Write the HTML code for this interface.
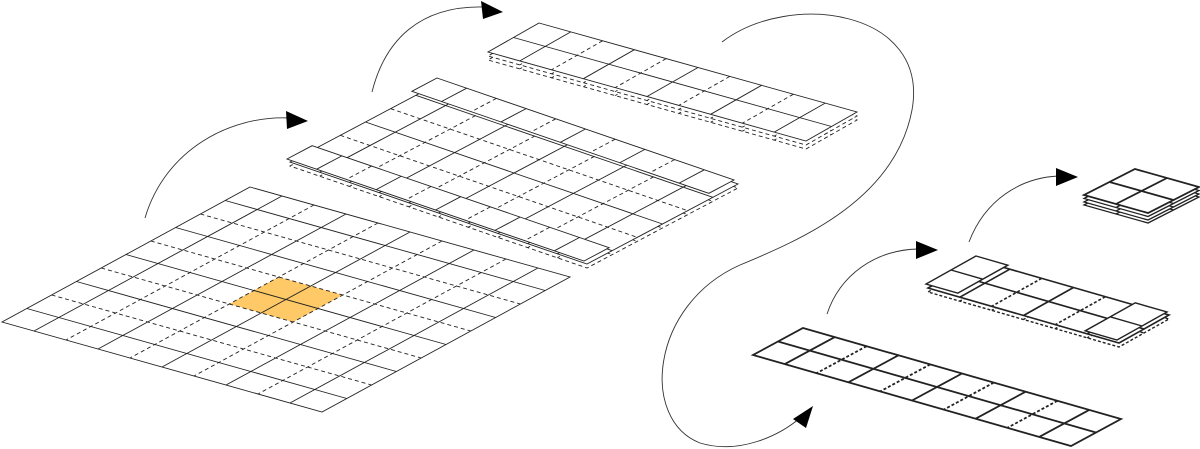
<!DOCTYPE html>
<html><head><meta charset="utf-8"><style>
html,body{margin:0;padding:0;background:#fff;}
svg{display:block;}
</style></head><body>
<svg id="s" width="1200" height="449" viewBox="0 0 1200 449" xmlns="http://www.w3.org/2000/svg">
<g fill="none" stroke="#333" stroke-width="0.9">
<path d="M145,218 C165,150 230,115 290,118"/>
<path d="M372,92 C385,40 420,5 485,7"/>
<path d="M722,42 C790,-10 930,10 912,110 C895,200 800,240 740,265 C650,305 640,420 700,443 C740,455 780,435 800,418"/>
<path d="M827,314 C840,275 875,250 918,249"/>
<path d="M969,242 C985,200 1020,178 1058,176"/>
</g>
<g fill="#000">
<polygon points="308,121 286,111 287,129"/>
<polygon points="503,12 481,1 483,19"/>
<polygon points="813,406 793,419 806,428"/>
<polygon points="938,250 916,241 916,259"/>
<polygon points="1078,177 1056,168 1056,186"/>
</g>
<g id="g"></g>
</svg>
<script>
var NS="http://www.w3.org/2000/svg",G=document.getElementById("g");
function el(n,a){var e=document.createElementNS(NS,n);for(var k in a)e.setAttribute(k,a[k]);G.appendChild(e);return e;}
function P(T,U,V,nu,nv,i,j){return [T[0]+U[0]*i/nu+V[0]*j/nv,T[1]+U[1]*i/nu+V[1]*j/nv];}
function grid(T,U,V,nu,nv,o){
 o=o||{};var sw=o.sw||0.9,dash=o.dash||"4,3",col=o.col||"#222";
 var c=[P(T,U,V,nu,nv,0,0),P(T,U,V,nu,nv,nu,0),P(T,U,V,nu,nv,nu,nv),P(T,U,V,nu,nv,0,nv)];
 el("polygon",{points:c.map(p=>p.join(",")).join(" "),fill:"#fff",stroke:"none"});
 if(o.hl){var h=o.hl;var q=[P(T,U,V,nu,nv,h[0],h[1]),P(T,U,V,nu,nv,h[2],h[1]),P(T,U,V,nu,nv,h[2],h[3]),P(T,U,V,nu,nv,h[0],h[3])];
  el("polygon",{points:q.map(p=>p.join(",")).join(" "),fill:"#fec966",stroke:"none"});}
 var off=o.off||0,offv=o.offv||0;
 for(var i=1;i<nu;i++){var a=P(T,U,V,nu,nv,i,0),b=P(T,U,V,nu,nv,i,nv);
  var d=(o.alld||(!o.alls&&(i+off)%2==0));el("line",{x1:a[0],y1:a[1],x2:b[0],y2:b[1],stroke:col,"stroke-width":sw,"stroke-dasharray":d?dash:"none"});}
 for(var j=1;j<nv;j++){var a=P(T,U,V,nu,nv,0,j),b=P(T,U,V,nu,nv,nu,j);
  var d=(o.alld||(!o.alls&&!o.rows&&(j+offv)%2==0));el("line",{x1:a[0],y1:a[1],x2:b[0],y2:b[1],stroke:col,"stroke-width":sw,"stroke-dasharray":d?dash:"none"});}
 el("polygon",{points:c.map(p=>p.join(",")).join(" "),fill:"none",stroke:col,"stroke-width":sw,"stroke-dasharray":o.alld?dash:"none"});
}
function sh(T,dy,dx){return [T[0]+(dx||0),T[1]+dy];}
function add(a,b){return [a[0]+b[0],a[1]+b[1]];}
function sc(v,k){return [v[0]*k,v[1]*k];}
// main grid
grid([250,187],[320,90],[-248,135],10,10,{hl:[4,4,6,6]});
// top layer stack (10x2)
var T3=[539,23],U3=[318,89],V3=[-51,29];
grid(sh(T3,8),U3,V3,10,2,{alld:1});
grid(sh(T3,4),U3,V3,10,2,{alld:1});
grid(T3,U3,V3,10,2,{rows:1});
// middle layer (10x6)
var T2=[441,82],U2=[297,102],V2=[-151,80];
grid(sh(T2,4),U2,V2,10,6,{alld:1});
grid(T2,U2,V2,10,6,{});
// raised row strips
var v1=sc(V2,1/6);
grid(add(T2,[-4,-4]),U2,v1,10,1,{});
grid(add(add(T2,sc(V2,5/6)),[-3,-3]),U2,v1,10,1,{});
// bottom right strip 10x2
grid([803,328],[318,91],[-50,27],10,2,{sw:1.8,dash:"3,2",rows:1});
// middle right strip 6x2
var T4=[978,260],U4=[191,55],V4=[-50,28];
grid(sh(T4,4),U4,V4,6,2,{sw:1.4,dash:"3,2",alld:1});
grid(T4,U4,V4,6,2,{sw:1.6,dash:"3,2",rows:1});
var u1=sc(U4,1/6);
grid(add(T4,[-2,-4]),u1,V4,1,2,{sw:1.4,rows:1});
grid(add(add(T4,sc(U4,5/6)),[-2,-3]),u1,V4,1,2,{sw:1.4,rows:1});
// top right 2x2 stack
var T5=[1135,169],U5=[64,18],V5=[-51,26];
grid(sh(T5,10),U5,V5,2,2,{sw:1.3,dash:"3,2",alls:1});
grid(sh(T5,7),U5,V5,2,2,{sw:1.3,dash:"3,2",alls:1});
grid(sh(T5,3.5),U5,V5,2,2,{sw:1.3,dash:"3,2",alls:1});
grid(T5,U5,V5,2,2,{sw:1.8,alls:1});
</script>
</body></html>
